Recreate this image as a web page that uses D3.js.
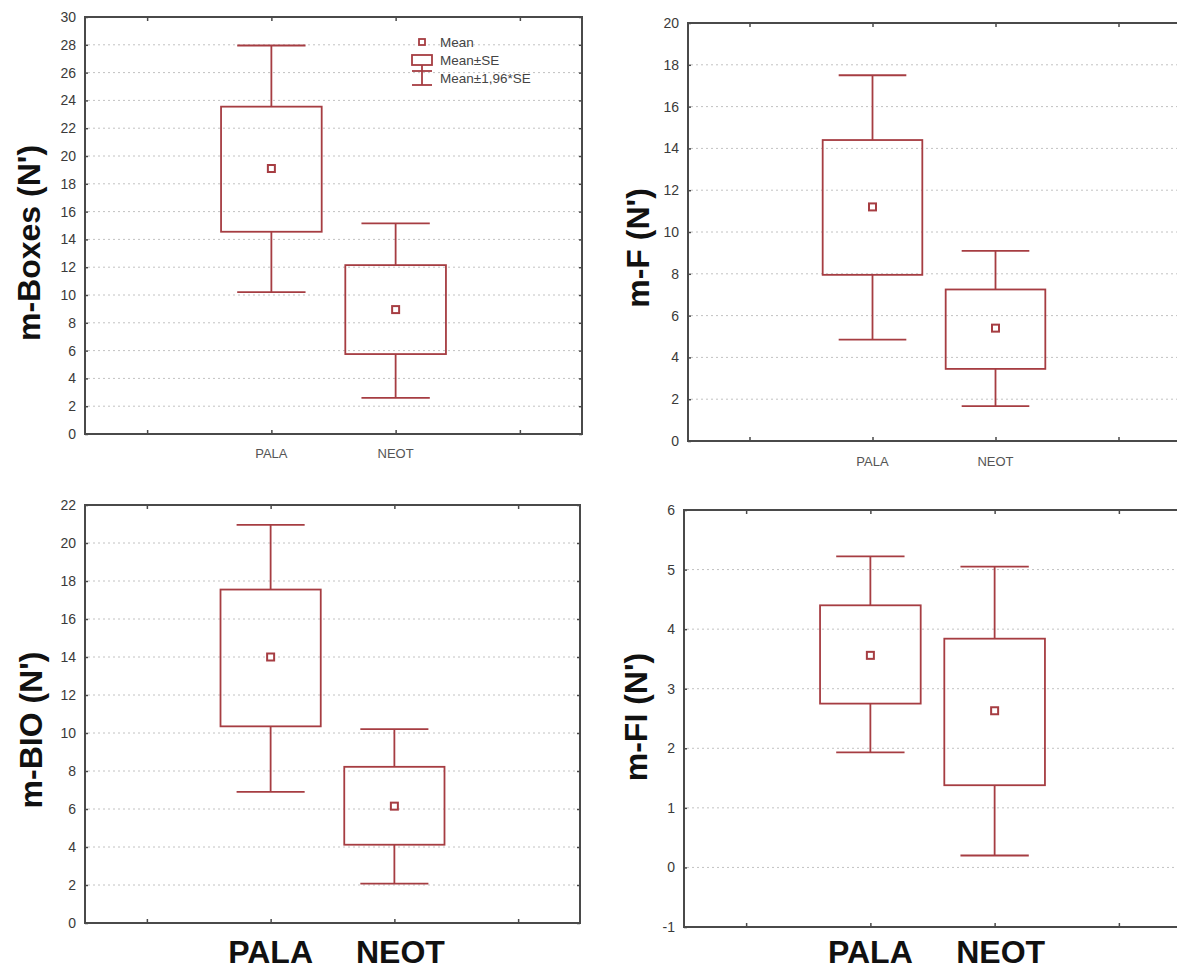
<!DOCTYPE html>
<html>
<head>
<meta charset="utf-8">
<script src="https://cdn.jsdelivr.net/npm/d3@7"></script>
<style>
  html, body { margin: 0; padding: 0; background: #fff; }
  svg { display: block; font-family: Arial, 'Liberation Sans', sans-serif; }
</style>
</head>
<body>
<div id="chart"></div>
<script>
const groups = ['PALA', 'NEOT'];
const groupPos = [2, 3];

// per group: [mean-1.96SE, mean-SE, mean, mean+SE, mean+1.96SE]
const mBoxes = [[10.2, 14.55, 19.1, 23.55, 27.95], [2.6, 5.75, 8.95, 12.15, 15.15]];
const mF = [[4.85, 7.95, 11.2, 14.4, 17.5], [1.67, 3.45, 5.4, 7.25, 9.1]];
const mBIO = [[6.9, 10.35, 14.0, 17.55, 20.95], [2.07, 4.12, 6.15, 8.22, 10.2]];
const mFI = [[1.93, 2.75, 3.56, 4.4, 5.22], [0.2, 1.38, 2.63, 3.84, 5.05]];

const ticksBoxes = [0, 2, 4, 6, 8, 10, 12, 14, 16, 18, 20, 22, 24, 26, 28, 30];
const ticksF = [0, 2, 4, 6, 8, 10, 12, 14, 16, 18, 20];
const ticksBIO = [0, 2, 4, 6, 8, 10, 12, 14, 16, 18, 20, 22];
const ticksFI = [-1, 0, 1, 2, 3, 4, 5, 6];
const xTicks = [1, 2, 3, 4];

const legendLabels = ['Mean', 'Mean\u00b1SE', 'Mean\u00b11,96*SE'];

const W = 1177, H = 971;
const boxColor = '#a63d42';
const axisColor = '#4a4a4a';

const panels = [
  {title: "m-Boxes (N')", stats: mBoxes, ticks: ticksBoxes, x0: 85, x1: 582, y0: 17, y1: 434,
   titleX: 29, titleY: 243, bigLabels: false, labelY: 458, legend: true},
  {title: "m-F (N')", stats: mF, ticks: ticksF, x0: 688, x1: 1180, y0: 23, y1: 441,
   titleX: 638, titleY: 248, bigLabels: false, labelY: 466, legend: false},
  {title: "m-BIO (N')", stats: mBIO, ticks: ticksBIO, x0: 85, x1: 580, y0: 505, y1: 923,
   titleX: 31, titleY: 730, bigLabels: true, labelY: 963, legend: false},
  {title: "m-FI (N')", stats: mFI, ticks: ticksFI, x0: 684, x1: 1181, y0: 510, y1: 927,
   titleX: 636, titleY: 717, bigLabels: true, labelY: 963, legend: false}
];

const svg = d3.select('#chart').append('svg')
  .attr('width', W)
  .attr('height', H);

svg.append('rect')
  .attr('width', W)
  .attr('height', H)
  .attr('fill', '#fff');

panels.forEach(p => {
  const x = d3.scaleLinear().domain([0.5, 4.5]).range([p.x0, p.x1]);
  const yDomain = d3.extent(p.ticks);
  const y = d3.scaleLinear().domain(yDomain).range([p.y1, p.y0]);
  const g = svg.append('g');

  // dotted grid lines
  g.selectAll('.grid')
    .data(p.ticks.filter(t => t > yDomain[0] && t < yDomain[1]))
    .join('line')
    .attr('class', 'grid')
    .attr('x1', p.x0 + 3)
    .attr('x2', p.x1 - 3)
    .attr('y1', d => y(d))
    .attr('y2', d => y(d))
    .attr('stroke', '#c2c2c2')
    .attr('stroke-width', 1)
    .attr('stroke-dasharray', '2,3');

  // axes
  const yAxis = g.append('g')
    .attr('transform', `translate(${p.x0},0)`)
    .call(d3.axisLeft(y).tickValues(p.ticks).tickSize(-3).tickPadding(9).tickFormat(d => String(d)));
  yAxis.selectAll('text')
    .attr('font-size', 14)
    .attr('fill', '#3a3a3a')
    .attr('font-family', 'Arial, Liberation Sans, sans-serif');

  g.append('g')
    .attr('transform', `translate(${p.x1},0)`)
    .call(d3.axisRight(y).tickValues(p.ticks).tickSize(-3).tickFormat(''));

  g.append('g')
    .attr('transform', `translate(0,${p.y0})`)
    .call(d3.axisTop(x).tickValues(xTicks).tickSize(-4).tickFormat(''));

  g.append('g')
    .attr('transform', `translate(0,${p.y1})`)
    .call(d3.axisBottom(x).tickValues(xTicks).tickSize(-4).tickFormat(''));

  g.selectAll('.domain').remove();
  g.selectAll('.tick line').attr('stroke', axisColor).attr('stroke-width', 1.5);

  // frame
  g.append('rect')
    .attr('x', p.x0)
    .attr('y', p.y0)
    .attr('width', p.x1 - p.x0)
    .attr('height', p.y1 - p.y0)
    .attr('fill', 'none')
    .attr('stroke', axisColor)
    .attr('stroke-width', 2);

  // category labels
  g.selectAll('.cat')
    .data(groups)
    .join('text')
    .attr('class', 'cat')
    .attr('x', (d, i) => x(groupPos[i]) + (p.bigLabels && i === 1 ? 6 : 0))
    .attr('y', p.labelY)
    .attr('text-anchor', 'middle')
    .attr('font-size', p.bigLabels ? 32 : 13)
    .attr('font-weight', p.bigLabels ? 'bold' : 'normal')
    .attr('fill', p.bigLabels ? '#111' : '#555')
    .text(d => d);

  // y title
  g.append('text')
    .attr('transform', `translate(${p.titleX},${p.titleY}) rotate(-90)`)
    .attr('text-anchor', 'middle')
    .attr('dy', '0.35em')
    .attr('font-size', 32)
    .attr('font-weight', 'bold')
    .attr('fill', '#111')
    .text(p.title);

  // whisker boxes
  const bw = 0.405, cw = 0.275;
  const box = g.selectAll('.stat')
    .data(p.stats)
    .join('g')
    .attr('class', 'stat')
    .attr('stroke', boxColor)
    .attr('fill', 'none')
    .attr('stroke-width', 1.8);

  box.append('line')
    .attr('x1', (d, i) => x(groupPos[i]))
    .attr('x2', (d, i) => x(groupPos[i]))
    .attr('y1', d => y(d[0]))
    .attr('y2', d => y(d[1]));
  box.append('line')
    .attr('x1', (d, i) => x(groupPos[i]))
    .attr('x2', (d, i) => x(groupPos[i]))
    .attr('y1', d => y(d[3]))
    .attr('y2', d => y(d[4]));
  [0, 4].forEach(k => {
    box.append('line')
      .attr('x1', (d, i) => x(groupPos[i] - cw))
      .attr('x2', (d, i) => x(groupPos[i] + cw))
      .attr('y1', d => y(d[k]))
      .attr('y2', d => y(d[k]));
  });
  box.append('rect')
    .attr('x', (d, i) => x(groupPos[i] - bw))
    .attr('width', (d, i) => x(groupPos[i] + bw) - x(groupPos[i] - bw))
    .attr('y', d => y(d[3]))
    .attr('height', d => y(d[1]) - y(d[3]))
    .attr('fill', 'none');
  box.append('rect')
    .attr('x', (d, i) => x(groupPos[i]) - 3.5)
    .attr('y', d => y(d[2]) - 3.5)
    .attr('width', 7)
    .attr('height', 7)
    .attr('stroke-width', 2)
    .attr('fill', '#fff');

  if (p.legend) {
    const lg = g.append('g');
    const lx = 422, ly = [42, 60, 78];
    lg.append('rect')
      .attr('x', lx - 3).attr('y', ly[0] - 3).attr('width', 6).attr('height', 6)
      .attr('fill', '#fff').attr('stroke', boxColor).attr('stroke-width', 1.8);
    lg.append('rect')
      .attr('x', lx - 10).attr('y', ly[1] - 5).attr('width', 20).attr('height', 10)
      .attr('fill', 'none').attr('stroke', boxColor).attr('stroke-width', 1.8);
    lg.append('line')
      .attr('x1', lx).attr('x2', lx).attr('y1', ly[1] + 5).attr('y2', ly[2] + 7)
      .attr('stroke', boxColor).attr('stroke-width', 1.8);
    [ly[2] - 7, ly[2] + 7].forEach(yy => {
      lg.append('line')
        .attr('x1', lx - 10).attr('x2', lx + 10).attr('y1', yy).attr('y2', yy)
        .attr('stroke', boxColor).attr('stroke-width', 1.8);
    });
    lg.selectAll('.lt')
      .data(legendLabels)
      .join('text')
      .attr('class', 'lt')
      .attr('x', lx + 18)
      .attr('y', (d, i) => ly[i])
      .attr('dy', '0.35em')
      .attr('font-size', 13.5)
      .attr('fill', '#444')
      .text(d => d);
  }
});
</script>
</body>
</html>
